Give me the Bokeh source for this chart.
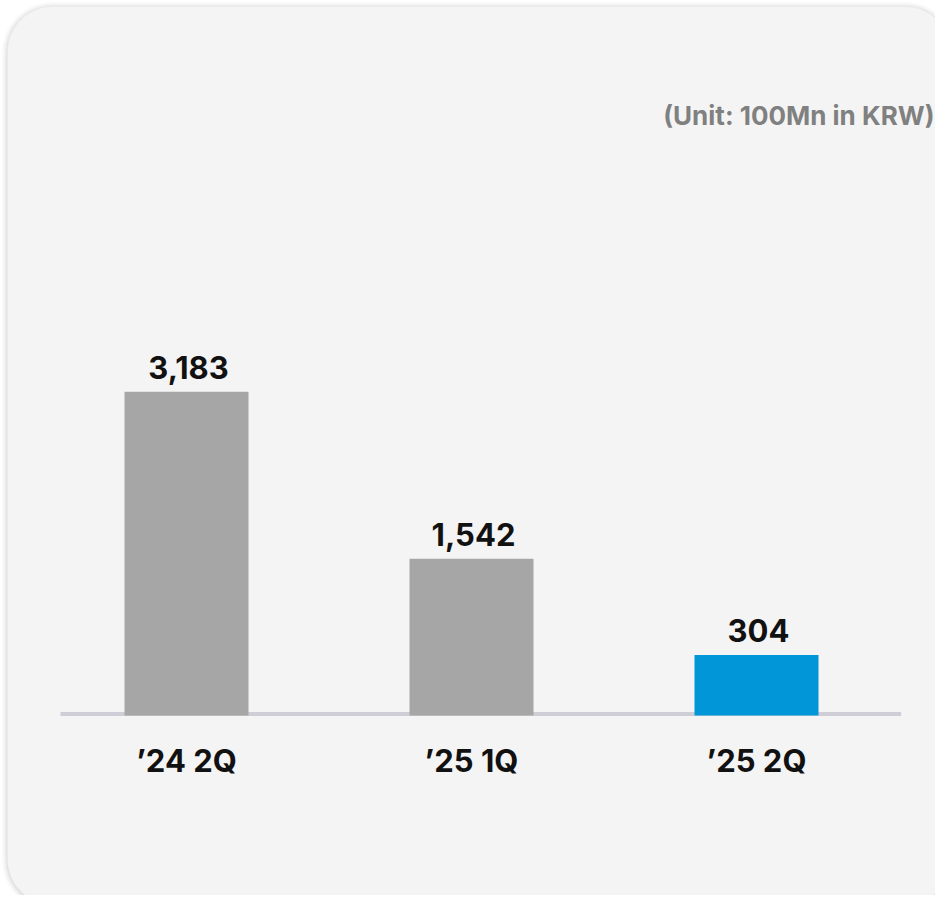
from bokeh.plotting import figure
from bokeh.models import Range1d, BoxAnnotation, ColumnDataSource
from bokeh.core.properties import value
from bokeh.embed import file_html
from bokeh.resources import INLINE

# ---- data ----
categories = ["\u201924 2Q", "\u201925 1Q", "\u201925 2Q"]
values = [3183, 1542, 304]
# drawn bar heights (the smallest bar is drawn taller than proportional)
bar_heights = [3183, 1542, 596]
bar_colors = ["#a6a6a6", "#a6a6a6", "#0096d8"]
unit_label = "(Unit: 100Mn in KRW)"

# ---- layout ----
W, H = 935, 895
PX0, PX_PER = 186.0, 285.0      # canvas x of first category, px per category
Y0_PY, K = 715.0, 0.1017        # canvas y of value 0, px per unit


def xd(px):
    return (px - PX0) / PX_PER


def yd(py):
    return (Y0_PY - py) / K


p = figure(width=W, height=H, output_backend="svg", toolbar_location=None,
           x_axis_location=None, y_axis_location=None,
           x_range=Range1d(xd(0), xd(W)), y_range=Range1d(yd(H), yd(0)),
           min_border=0, min_border_left=0, min_border_right=0,
           min_border_top=0, min_border_bottom=0)
p.outline_line_color = None
p.background_fill_color = "white"
p.border_fill_color = "white"
p.grid.visible = False

# card shadow + card
for i, a in [(6, 0.010), (5, 0.012), (4, 0.015), (3, 0.018), (2, 0.022), (1, 0.03)]:
    p.add_layout(BoxAnnotation(left=xd(7 - i), right=xd(950 + i), top=yd(6 - i + 1), bottom=yd(904 + i + 1),
                               fill_color="black", fill_alpha=a, line_color=None,
                               border_radius=45 + i, level="underlay"))
p.add_layout(BoxAnnotation(left=xd(7), right=xd(950), top=yd(6), bottom=yd(904),
                           fill_color="#f4f4f4", fill_alpha=1.0, line_color="#e4e4e4", line_width=1,
                           border_radius=45, level="underlay"))

x_pos = list(range(len(categories)))
src = ColumnDataSource(dict(
    x=x_pos, h=bar_heights, color=bar_colors,
    label=[f"{v:,}" for v in values],
    label_y=[h + 24.5 / K for h in bar_heights],
    cat=categories,
    cat_y=[yd(759.7)] * len(categories),
))

# baseline
p.segment(x0=[xd(60)], x1=[xd(900.7)], y0=[yd(713.5)], y1=[yd(713.5)],
          line_width=4, line_color="#cfced6")

# bars
p.vbar(x="x", top="h", bottom=0, width=124 / PX_PER, fill_color="color", line_color=None, source=src)

# value labels
p.text(x="x", y="label_y", text="label", source=src, text_align="center", text_baseline="alphabetic",
       x_offset=2, text_font=value("Inter"), text_font_style="bold", text_font_size="31px",
       text_color="#111111")

# category labels
p.text(x="x", y="cat_y", text="cat", source=src, text_align="center", text_baseline="alphabetic",
       text_font=value("Inter"), text_font_style="bold", text_font_size="31px", text_color="#111111")

# unit label
p.text(x=[xd(934)], y=[yd(115.3)], text=[unit_label], text_align="right", text_baseline="alphabetic",
       text_font=value("Inter"), text_font_style="bold", text_font_size="26px", text_color="#808080")

open("out.html", "w").write(file_html(p, INLINE))
